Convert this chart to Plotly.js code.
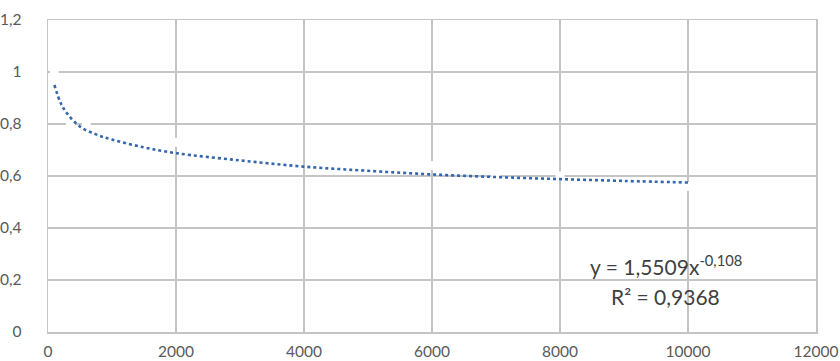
<!DOCTYPE html>
<html>
<head>
<meta charset="utf-8">
<script src="https://cdn.plot.ly/plotly-3.0.1.min.js"></script>
<style>
html,body{margin:0;padding:0;background:#fff;}
#chart{width:840px;height:361px;}
</style>
</head>
<body>
<div id="chart"></div>
<script>
// Observed data points (drawn white in the original, only visible as gaps in the grid)
const dataX = [100, 350, 600, 2000, 6000, 7000, 8000, 10000];
const dataY = [1.0, 0.8, 0.8, 0.73, 0.64, 0.6, 0.6, 0.56];

// Power trendline, values
const trendX = [100, 200, 300, 500, 750, 1000, 1500, 2000, 3000, 4000, 5000, 6000, 7000, 8000, 9000, 10000];
const trendY = [0.95, 0.88, 0.84, 0.79, 0.76, 0.74, 0.71, 0.688, 0.66, 0.636, 0.62, 0.606, 0.596, 0.588, 0.581, 0.575];

const xTicks = [0, 2000, 4000, 6000, 8000, 10000, 12000];
const yTicks = [0, 0.2, 0.4, 0.6, 0.8, 1, 1.2];

const equationText = 'y = 1,5509x<sup>-0,108</sup>';
const r2Text = 'R² = 0,9368';

const gridColor = '#c4c4c4';
const textColor = '#595959';

const traces = [
  {
    x: dataX, y: dataY, type: 'scatter', mode: 'markers',
    marker: {color: '#ffffff', size: 9},
    hoverinfo: 'skip', showlegend: false
  },
  {
    x: trendX, y: trendY, type: 'scatter', mode: 'lines',
    line: {color: '#3466ad', width: 2.6, dash: 'dot', shape: 'spline'},
    hoverinfo: 'skip', showlegend: false
  }
];

const layout = {
  width: 840, height: 361,
  margin: {l: 48, r: 24, t: 20, b: 29},
  paper_bgcolor: '#ffffff', plot_bgcolor: '#ffffff',
  separators: ', ',
  showlegend: false,
  font: {family: 'Lato, "Open Sans", sans-serif', size: 15, color: textColor},
  xaxis: {
    range: [0, 12000], tickvals: xTicks, tickformat: 'd',
    showgrid: true, gridcolor: gridColor, gridwidth: 1.3,
    showline: true, linecolor: gridColor, linewidth: 1.5, mirror: true,
    zeroline: false, ticks: '', ticklen: 0, ticklabelstandoff: 5,
    tickfont: {size: 15.5, color: textColor}
  },
  yaxis: {
    range: [0, 1.2], tickvals: yTicks,
    showgrid: true, gridcolor: gridColor, gridwidth: 1.3,
    showline: true, linecolor: gridColor, linewidth: 1.5, mirror: true,
    zeroline: false, ticks: '', ticklen: 0, ticklabelstandoff: 22,
    tickfont: {size: 15.5, color: textColor}
  },
  annotations: [
    {
      x: 9650, y: 0.258, xref: 'x', yref: 'y', text: equationText,
      showarrow: false, xanchor: 'center', yanchor: 'middle',
      font: {size: 21, color: '#404040', family: 'Lato, "Open Sans", sans-serif'}
    },
    {
      x: 9650, y: 0.136, xref: 'x', yref: 'y', text: r2Text,
      showarrow: false, xanchor: 'center', yanchor: 'middle',
      font: {size: 21, color: '#404040', family: 'Lato, "Open Sans", sans-serif'}
    }
  ]
};

Plotly.newPlot('chart', traces, layout, {staticPlot: true, displayModeBar: false});
</script>
</body>
</html>
